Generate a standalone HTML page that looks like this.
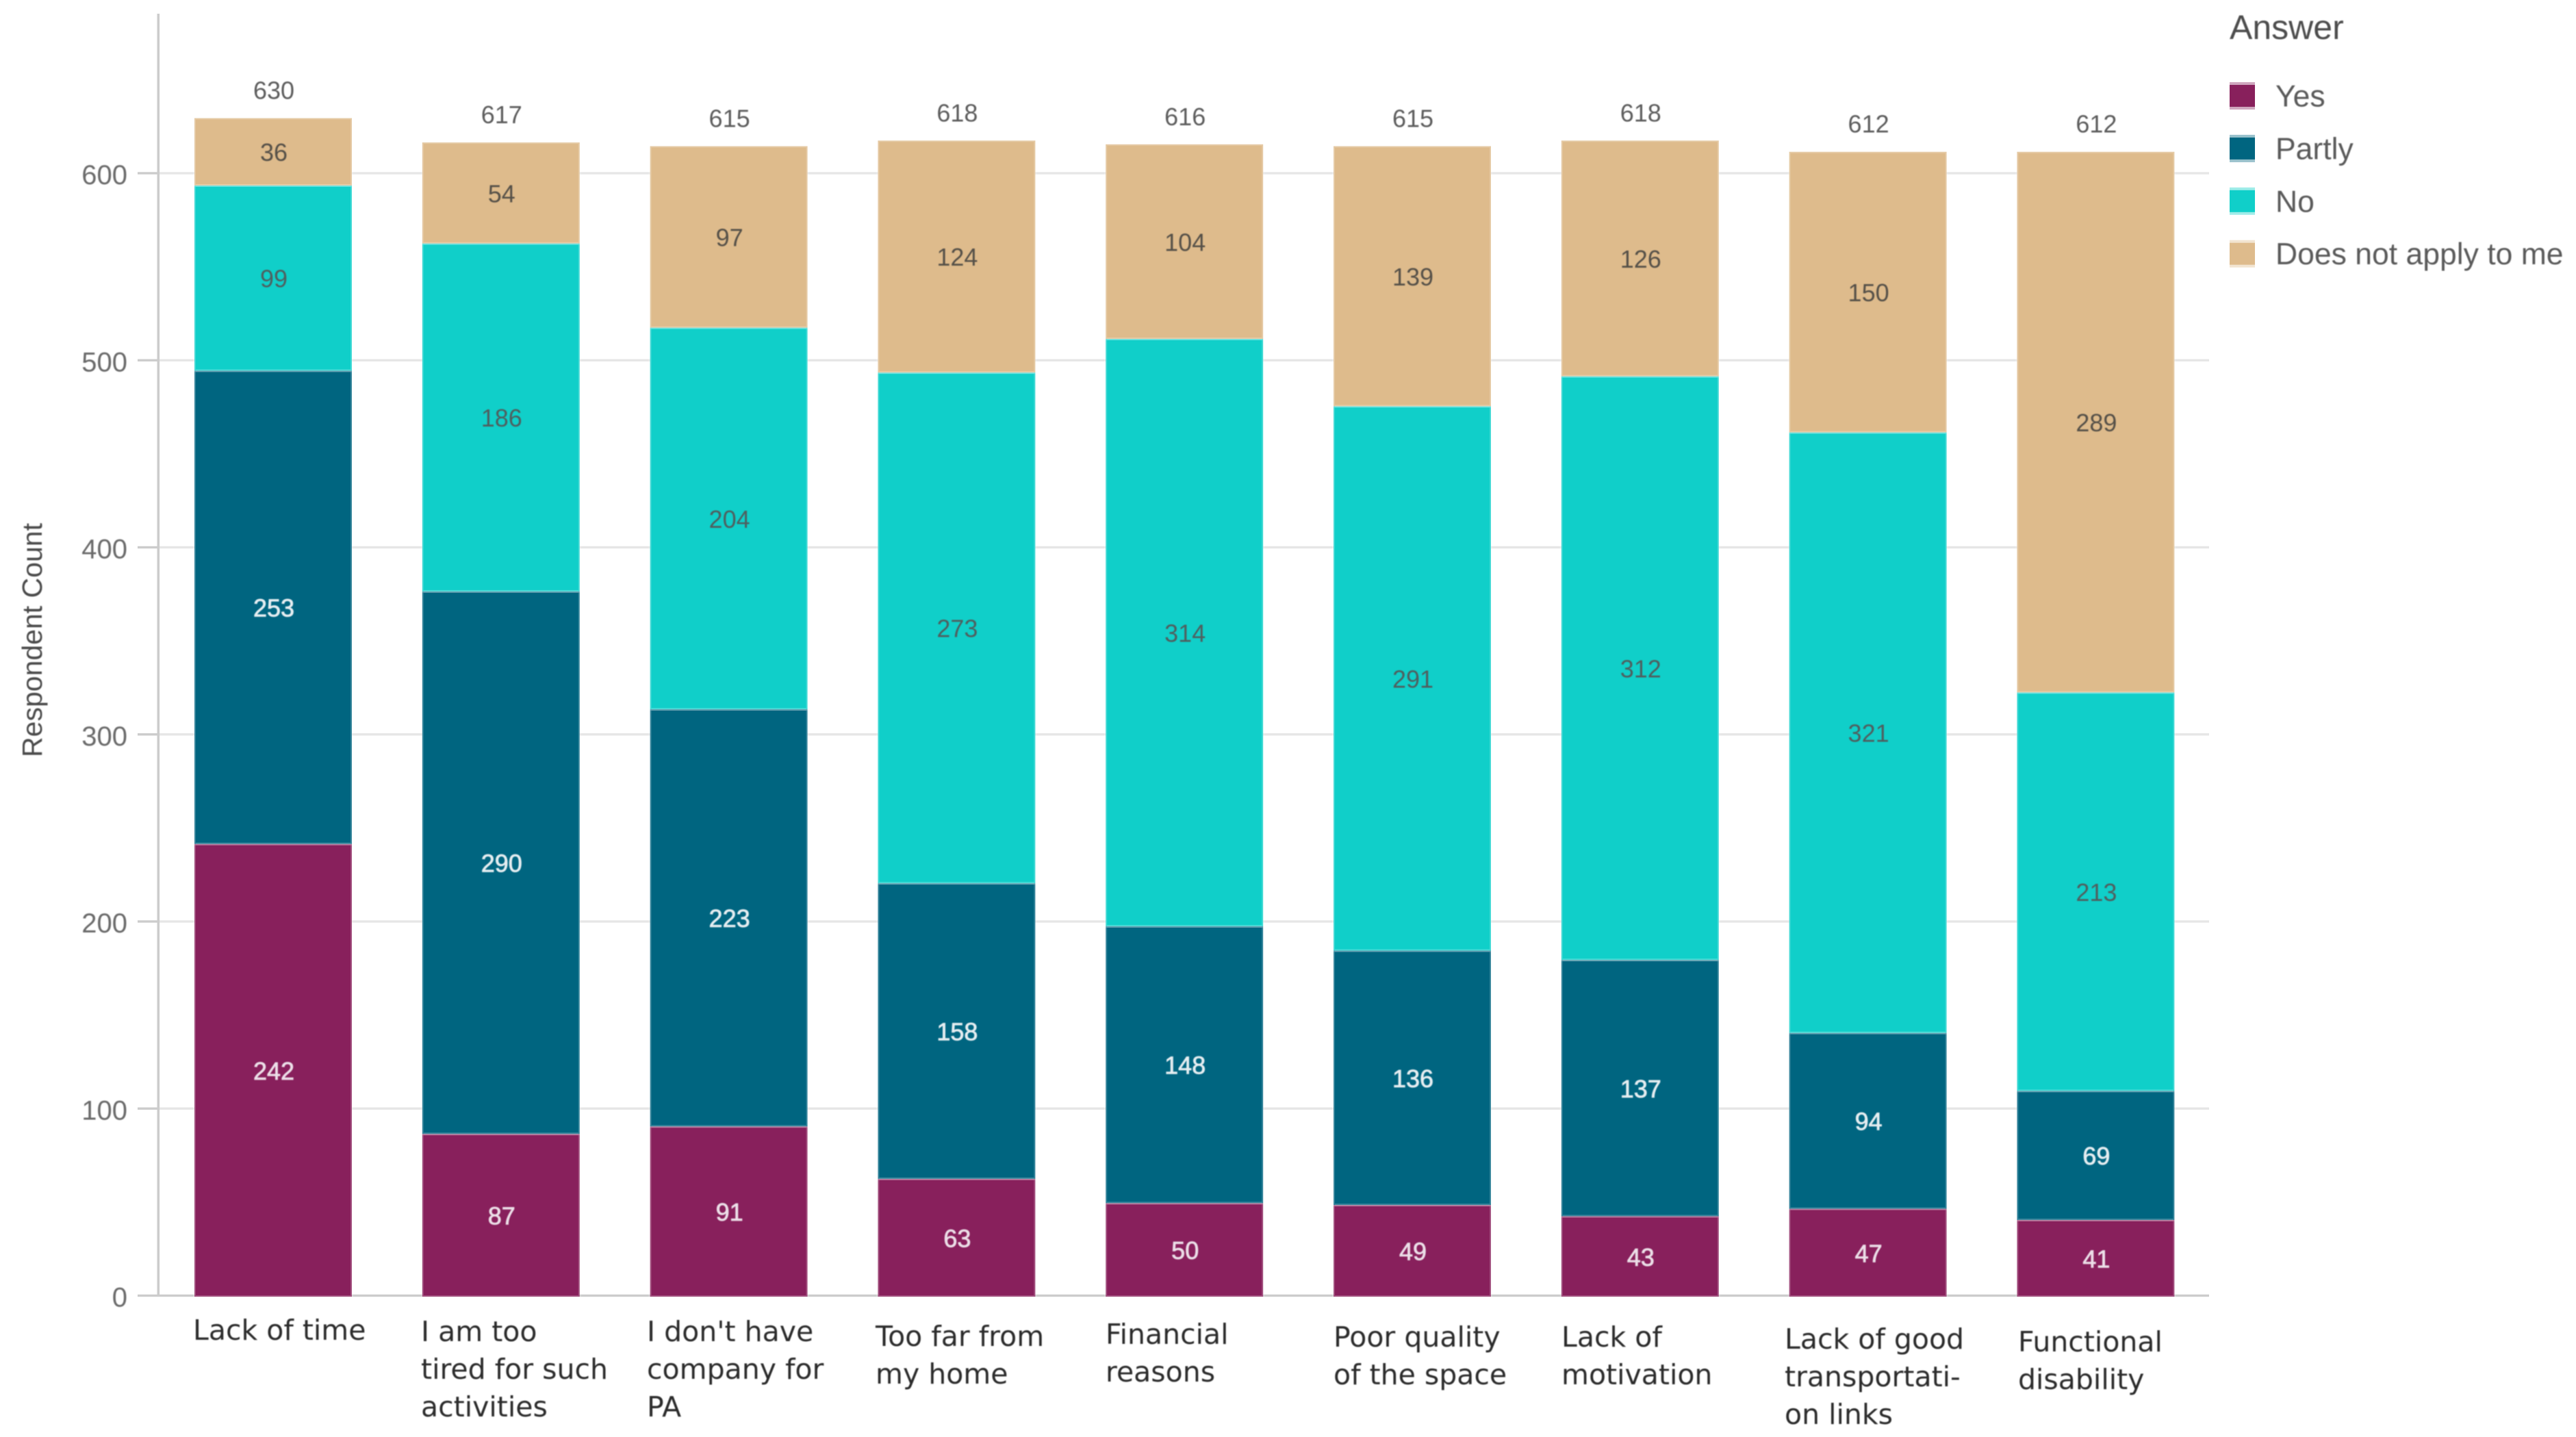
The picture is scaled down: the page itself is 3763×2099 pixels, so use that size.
<!DOCTYPE html>
<html lang="en">
<head>
<meta charset="utf-8">
<title>Respondent count by answer</title>
<style>
html,body{margin:0;padding:0;background:#fff;}
body{width:3763px;height:2099px;overflow:hidden;}
svg{display:block;}
text{font-family:"Liberation Sans",sans-serif;}
.soft{filter:blur(0.9px);}
.cat{font-family:"DejaVu Sans","Liberation Sans",sans-serif;font-size:41px;fill:#2b2b2b;}
.val{font-size:36px;text-anchor:middle;}
.tick{font-size:40px;fill:#6a6a6a;text-anchor:end;}
.legend-label{font-size:44.5px;fill:#5a5a5a;}
</style>
</head>
<body>
<svg id="chart" xmlns="http://www.w3.org/2000/svg" width="3763" height="2099" viewBox="0 0 3763 2099">
  <rect x="0" y="0" width="3763" height="2099" fill="#ffffff"/>
  <g id="grid"></g>
  <g id="bars"></g>
  <g id="axis"></g>
  <g id="labels" class="soft"></g>
  <g id="cats" class="soft"></g>
  <text class="soft" transform="translate(61,935) rotate(-90)" text-anchor="middle" font-size="41" fill="#4a4a4a">Respondent Count</text>
  <g id="legend">
    <text class="soft" x="3257" y="57" font-size="50" fill="#4d4d4d">Answer</text>
  </g>
</svg>
<script>
const categories = [
  ["Lack of time"],
  ["I am too", "tired for such", "activities"],
  ["I don't have", "company for", "PA"],
  ["Too far from", "my home"],
  ["Financial", "reasons"],
  ["Poor quality", "of the space"],
  ["Lack of", "motivation"],
  ["Lack of good", "transportati-", "on links"],
  ["Functional", "disability"]
];
const seriesNames = ["Yes", "Partly", "No", "Does not apply to me"];
const yes = [242, 87, 91, 63, 50, 49, 43, 47, 41];
const partly = [253, 290, 223, 158, 148, 136, 137, 94, 69];
const no = [99, 186, 204, 273, 314, 291, 312, 321, 213];
const doesNotApply = [36, 54, 97, 124, 104, 139, 126, 150, 289];
const yTicks = [0, 100, 200, 300, 400, 500, 600];

(function () {
  const NS = "http://www.w3.org/2000/svg";
  const series = [yes, partly, no, doesNotApply];
  const colors = ["#88205c", "#006580", "#10cfc9", "#debb8c"];
  const textColors = ["#ecdfe8", "#e6eef1", "#4f5f5f", "#555048"];
  const y0 = 1894, unit = 2.7325;
  const gridShift = -1.5;
  const firstCenter = 399, pitch = 332.8, barW = 230;
  const yScale = function (v) { return y0 - v * unit; };
  const xScale = function (i) { return firstCenter + i * pitch; };
  const make = function (tag, parent) {
    const el = document.createElementNS(NS, tag);
    parent.appendChild(el);
    return el;
  };
  const setAll = function (el, props) {
    Object.keys(props).forEach(function (k) { el.setAttribute(k, props[k]); });
    return el;
  };

  const grid = document.getElementById("grid");
  const axis = document.getElementById("axis");
  yTicks.forEach(function (t) {
    const y = yScale(t) + gridShift;
    const line = make("rect", grid);
    
    
    setAll(line, { x: 231, y: y - 1.7, width: 2996, height: 3.4, fill: t === 0 ? "#cccccc" : "#e6e6e6" });
    const mark = make("rect", axis);
    
    
    setAll(mark, { x: 201, y: y - 1.7, width: 30, height: 3.4, fill: "#cccccc" });
    const label = make("text", axis);
    
    
    setAll(label, { x: 186, y: y + 16, "class": "tick soft" });
    label.textContent = t;
  });
  const axisLine = make("rect", axis);
  
  
  setAll(axisLine, { x: 229.5, y: 20, width: 3.6, height: 1874, fill: "#cccccc" });

  const bars = document.getElementById("bars");
  const labels = document.getElementById("labels");
  categories.forEach(function (cat, i) {
    let running = 0;
    const cx = xScale(i);
    series.forEach(function (values, s) {
      const v = values[i];
      const top = yScale(running + v);
      const bottom = yScale(running);
      const rect = make("rect", bars);
      
      
      setAll(rect, { x: cx - barW / 2, y: top, width: barW, height: bottom - top, fill: colors[s],
        stroke: "rgba(255,255,255,0.22)", "stroke-width": 4 });
      const text = make("text", labels);
      
      
      setAll(text, { x: cx + 1, y: (top + bottom) / 2 + 13.5, "class": "val", fill: textColors[s] });
      if (s < 2) {
        setAll(text, { stroke: textColors[s], "stroke-width": 0.8 });
      }
      text.textContent = v;
      running += v;
    });
    const total = make("text", labels);
    
    
    setAll(total, { x: cx + 1, y: yScale(running) - 28, "class": "val", fill: "#5c5c5c" });
    total.textContent = running;
  });

  // Hand-nudged label anchors: the source chart places these rows slightly unevenly.
  const catLeft = [282, 615, 945, 1279, 1615, 1948, 2281, 2607, 2948];
  const catBase = [1957, 1959, 1959, 1966, 1963, 1967, 1967, 1970, 1974];
  const cats = document.getElementById("cats");
  categories.forEach(function (lines, i) {
    const group = make("text", cats);
    
    
    group.setAttribute("class", "cat");
    lines.forEach(function (line, l) {
      const span = make("tspan", group);
      setAll(span, { x: catLeft[i], y: catBase[i] + l * 55 });
      span.textContent = line;
    });
  });

  const legend = document.getElementById("legend");
  const legendStep = 76.9;
  seriesNames.forEach(function (name, s) {
    const top = 120 + s * legendStep;
    const halo = make("rect", legend);
    
    
    setAll(halo, { x: 3257, y: top, width: 37, height: 40, fill: colors[s], "fill-opacity": 0.4 });
    const swatch = make("rect", legend);
    
    
    setAll(swatch, { x: 3257, y: top + 4, width: 37, height: 32, fill: colors[s] });
    const label = make("text", legend);
    
    
    setAll(label, { x: 3324, y: top + 35.5, "class": "legend-label soft" });
    label.textContent = name;
  });
})();
</script>
</body>
</html>
